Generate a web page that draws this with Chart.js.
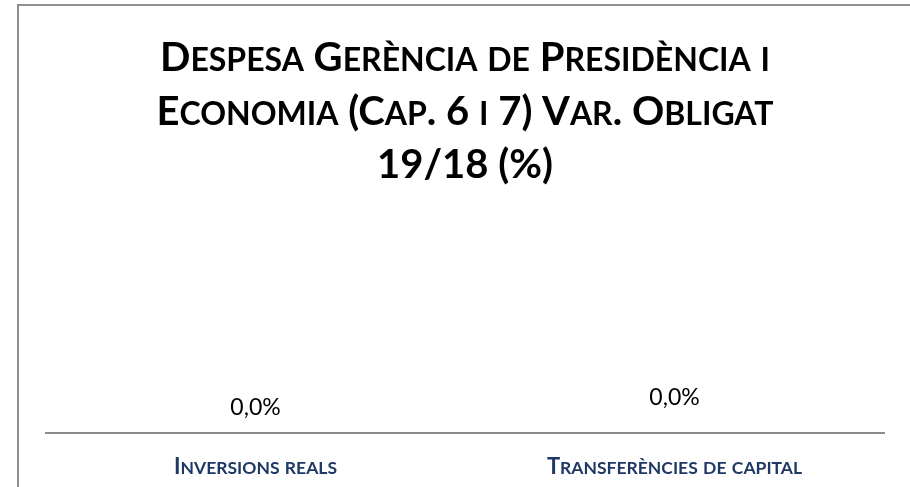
<!DOCTYPE html>
<html lang="ca">
<head>
<meta charset="UTF-8" />
<title>Despesa Gerència de Presidència i Economia</title>
<script src="https://cdn.jsdelivr.net/npm/chart.js"></script>
<style>
  body { margin: 0; background: #fff; }
  .frame {
    position: absolute; left: 17px; top: 4px;
    width: 1000px; height: 600px;
    border: 2px solid #8f8f8f;
  }
  .wrap { position: absolute; left: 0; top: 0; width: 910px; height: 487px; }
</style>
</head>
<body>
<div class="frame"></div>
<div class="wrap"><canvas id="chart" width="910" height="487"></canvas></div>
<script>
  const categories = ["Inversions reals", "Transferències de capital"];
  const variation = [0.0, 0.0];
  const titleLines = ["Despesa Gerència de Presidència i", "Economia (Cap. 6 i 7) Var. Obligat", "19/18 (%)"];

  // draws text in small caps: lowercase letters become smaller capitals
  function smallCaps(ctx, text, cx, baseline, big, small, weight, family) {
    const runs = [];
    for (const ch of text) {
      const low = ch !== ch.toUpperCase();
      const size = low ? small : big;
      const last = runs[runs.length - 1];
      if (last && last.size === size) last.text += ch.toUpperCase();
      else runs.push({ text: ch.toUpperCase(), size });
    }
    let total = 0;
    runs.forEach(r => {
      ctx.font = `${weight} ${r.size}px ${family}`;
      r.w = ctx.measureText(r.text).width;
      total += r.w;
    });
    let x = cx - total / 2;
    ctx.textAlign = "left";
    ctx.textBaseline = "alphabetic";
    runs.forEach(r => {
      ctx.font = `${weight} ${r.size}px ${family}`;
      ctx.fillText(r.text, x, baseline);
      x += r.w;
    });
  }

  const decorations = {
    id: "decorations",
    afterDraw(chart, args, opts) {
      const ctx = chart.ctx;
      const meta = chart.getDatasetMeta(0);
      const xs = chart.scales.x;
      ctx.save();

      // title
      ctx.fillStyle = "#000";
      titleLines.forEach((line, i) => {
        smallCaps(ctx, line, opts.titleX, opts.titleBase + i * opts.titleStep, 40, 32, "bold", "Lato");
      });

      // category labels
      ctx.fillStyle = "#1f3864";
      categories.forEach((c, i) => {
        smallCaps(ctx, c, xs.getPixelForTick(i), opts.tickBase, 22, 17.5, "bold", "Lato");
      });

      // value labels, decimal comma
      ctx.fillStyle = "#000";
      ctx.font = "23px Lato";
      ctx.textAlign = "center";
      ctx.textBaseline = "middle";
      meta.data.forEach((bar, i) => {
        const v = chart.data.datasets[0].data[i];
        const txt = v.toFixed(1).replace(".", ",") + "%";
        ctx.fillText(txt, bar.x, bar.y - opts.offsets[i]);
      });
      ctx.restore();
    }
  };

  new Chart(document.getElementById("chart"), {
    type: "bar",
    data: {
      labels: categories,
      datasets: [{ data: variation, backgroundColor: "#4472c4" }]
    },
    plugins: [decorations],
    options: {
      responsive: false,
      animation: false,
      layout: { padding: { left: 46, right: 26, top: 200, bottom: 54 } },
      scales: {
        x: {
          grid: { display: false, drawTicks: false },
          border: { color: "#8c8c8c", width: 2 },
          ticks: { display: false }
        },
        y: { display: false, min: 0, max: 1 }
      },
      plugins: {
        legend: { display: false },
        tooltip: { enabled: false },
        title: { display: false },
        decorations: {
          offsets: [25, 35],
          titleX: 465,
          titleBase: 71,
          titleStep: 53.5,
          tickBase: 474
        }
      }
    }
  });
</script>
</body>
</html>
